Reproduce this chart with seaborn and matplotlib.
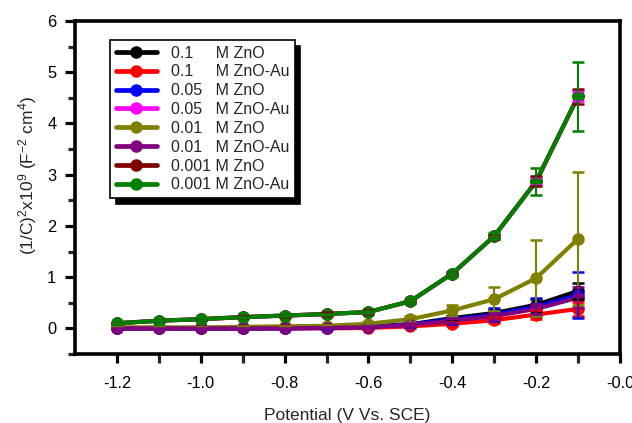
import numpy as np
import pandas as pd
import seaborn as sns
import matplotlib
matplotlib.use("Agg")
import matplotlib.pyplot as plt
from matplotlib.lines import Line2D
from matplotlib.ticker import MultipleLocator, FixedLocator

sns.set_style("ticks")
plt.rcParams['font.family'] = ['Liberation Sans', 'DejaVu Sans']
plt.rcParams['mathtext.fontset'] = 'custom'
plt.rcParams['mathtext.rm'] = 'Liberation Sans'
plt.rcParams['mathtext.it'] = 'Liberation Sans'
plt.rcParams['mathtext.default'] = 'regular'

potential = [-1.2, -1.1, -1.0, -0.9, -0.8, -0.7, -0.6, -0.5, -0.4, -0.3, -0.2, -0.1]

labels = ["0.1     M ZnO", "0.1     M ZnO-Au", "0.05   M ZnO", "0.05   M ZnO-Au",
          "0.01   M ZnO", "0.01   M ZnO-Au", "0.001 M ZnO", "0.001 M ZnO-Au"]
colors = ["#000000", "#ff0000", "#0000ff", "#ff00ff",
          "#808000", "#800080", "#800000", "#008000"]

zno_01 = [0.0, 0.0, 0.0, 0.0, 0.01, 0.02, 0.04, 0.08, 0.20, 0.30, 0.46, 0.73]
zno_au_01 = [0.0, 0.0, 0.0, 0.0, 0.0, 0.0, 0.01, 0.04, 0.09, 0.16, 0.27, 0.38]
zno_005 = [0.0, 0.0, 0.0, 0.0, 0.0, 0.01, 0.03, 0.08, 0.17, 0.27, 0.42, 0.65]
zno_au_005 = [0.10, 0.15, 0.18, 0.22, 0.25, 0.28, 0.32, 0.53, 1.07, 1.80, 2.87, 4.53]
zno_001 = [0.02, 0.02, 0.02, 0.03, 0.04, 0.05, 0.09, 0.18, 0.35, 0.57, 0.98, 1.75]
zno_au_001 = [0.0, 0.0, 0.0, 0.0, 0.0, 0.01, 0.02, 0.07, 0.15, 0.24, 0.38, 0.60]
zno_0001 = [0.10, 0.15, 0.18, 0.22, 0.25, 0.28, 0.32, 0.53, 1.07, 1.80, 2.87, 4.53]
zno_au_0001 = [0.10, 0.15, 0.18, 0.22, 0.25, 0.28, 0.32, 0.53, 1.07, 1.80, 2.87, 4.53]

err_zno_01 = [0.01, 0.01, 0.01, 0.01, 0.01, 0.01, 0.02, 0.03, 0.05, 0.08, 0.12, 0.15]
err_zno_au_01 = [0.01, 0.01, 0.01, 0.01, 0.01, 0.01, 0.02, 0.03, 0.04, 0.06, 0.08, 0.14]
err_zno_005 = [0.01, 0.01, 0.01, 0.01, 0.01, 0.02, 0.03, 0.05, 0.08, 0.12, 0.18, 0.45]
err_zno_au_005 = [0.01, 0.01, 0.01, 0.01, 0.01, 0.01, 0.02, 0.03, 0.04, 0.05, 0.08, 0.10]
err_zno_001 = [0.01, 0.01, 0.01, 0.01, 0.01, 0.02, 0.03, 0.06, 0.10, 0.23, 0.74, 1.30]
err_zno_au_001 = [0.01, 0.01, 0.01, 0.01, 0.01, 0.01, 0.02, 0.03, 0.05, 0.07, 0.10, 0.20]
err_zno_0001 = [0.01, 0.01, 0.01, 0.02, 0.02, 0.04, 0.03, 0.03, 0.04, 0.05, 0.10, 0.15]
err_zno_au_0001 = [0.01, 0.01, 0.01, 0.01, 0.01, 0.01, 0.02, 0.03, 0.04, 0.06, 0.27, 0.67]

series = [zno_01, zno_au_01, zno_005, zno_au_005, zno_001, zno_au_001, zno_0001, zno_au_0001]
errors = [err_zno_01, err_zno_au_01, err_zno_005, err_zno_au_005,
          err_zno_001, err_zno_au_001, err_zno_0001, err_zno_au_0001]

df = pd.DataFrame({
    "Potential": np.tile(potential, len(series)),
    "value": np.concatenate(series),
    "sample": np.repeat(labels, len(potential)),
})

W, H = 632, 423
fig = plt.figure(figsize=(W / 100, H / 100), dpi=100)
ax_l, ax_r, ax_t, ax_b = 75, 620, 21, 354
ax = fig.add_axes([ax_l / W, 1 - ax_b / H, (ax_r - ax_l) / W, (ax_b - ax_t) / H])

sns.lineplot(data=df, x="Potential", y="value", hue="sample", hue_order=labels,
             palette=colors, marker="o", markersize=9, markeredgewidth=0,
             linewidth=3.0, legend=False, ax=ax, sort=False)

for ys, es, c in zip(series, errors, colors):
    ax.errorbar(potential, ys, yerr=es, fmt="none", ecolor=c, elinewidth=1.5,
                capsize=4.5, capthick=1.8, zorder=5)

ax.set_xlim(-1.3, 0.0)
ax.set_ylim(-0.5, 6)
major_x = np.round(np.arange(-1.2, 0.01, 0.2), 1)
ax.set_xticks(major_x)
ax.set_xticklabels([f"{v:.1f}" for v in major_x])
ax.xaxis.set_minor_locator(FixedLocator(np.round(np.arange(-1.1, 0, 0.2), 1)))
ax.yaxis.set_major_locator(MultipleLocator(1))
ax.yaxis.set_minor_locator(MultipleLocator(0.5))

for s in ax.spines.values():
    s.set_linewidth(2.6)
    s.set_color("black")
ax.tick_params(axis="both", which="major", direction="out", width=2.3,
               labelsize=11.8, color="black", labelcolor="black")
ax.tick_params(axis="x", which="both", length=6.5, width=2.3, pad=9)
ax.tick_params(axis="y", which="major", length=7.5, pad=6)
ax.tick_params(axis="y", which="minor", length=5, width=2.3)

ax.set_xlabel("Potential (V Vs. SCE)", fontsize=12.5)
ax.xaxis.set_label_coords(0.5, -(415 - ax_b) / (ax_b - ax_t), transform=ax.transAxes)
ax.xaxis.label.set_va("center")
ax.set_ylabel("(1/C)$^2$x10$^9$ (F$^{-2}$ cm$^4$)", fontsize=12.5)
ax.yaxis.set_label_coords(-(ax_l - 28) / (ax_r - ax_l), (ax_b - 175) / (ax_b - ax_t),
                          transform=ax.transAxes)
ax.yaxis.label.set_va("center")

handles = [Line2D([0], [0], color=c, marker="o", markersize=9, markeredgewidth=0,
                  linewidth=3.4) for c in colors]
leg = ax.legend(handles, labels, loc="upper left",
                bbox_to_anchor=((110 - ax_l) / (ax_r - ax_l), (ax_b - 40) / (ax_b - ax_t)),
                borderaxespad=0, fontsize=11.5, frameon=True, fancybox=False,
                handlelength=2.6, labelspacing=0.24, borderpad=0.35, handletextpad=0.85,
                shadow={"color": "black", "alpha": 1.0, "ox": 4, "oy": -4})
leg.get_frame().set_edgecolor("black")
leg.get_frame().set_linewidth(1.2)
leg.get_frame().set_alpha(1)

fig.savefig("out.png", dpi=100)
